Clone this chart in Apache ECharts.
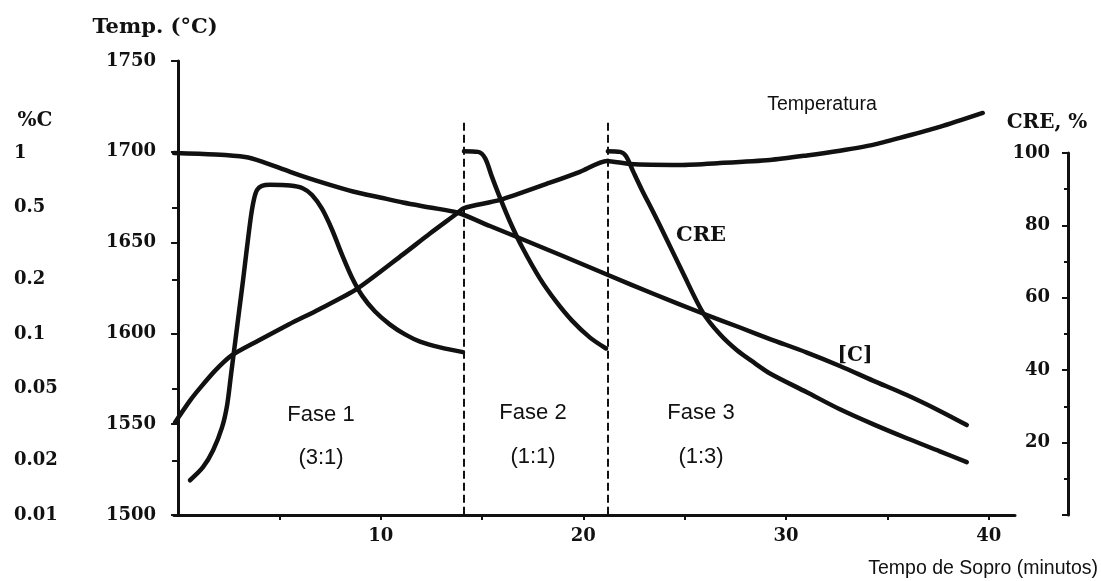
<!DOCTYPE html>
<html>
<head>
<meta charset="utf-8">
<script src="https://cdn.jsdelivr.net/npm/echarts@6/dist/echarts.min.js"></script>
<style>
  html, body { margin: 0; padding: 0; background: #fff; }
  #chart { width: 1101px; height: 581px; }
</style>
</head>
<body>
<div id="chart"></div>
<script>
// Blowing time (minutes) and bath temperature (°C)
const tempTime = [-0.15, 0.59, 1.09, 1.83, 2.66, 3.95, 5.48, 7.0, 8.83, 11.1, 12.43, 13.76, 14.11,
  15.89, 18.35, 19.83, 21.16, 22.3, 24.77, 26.74, 29.2, 31.03, 32.66, 34.29, 35.96, 37.59, 39.71];
const tempValues = [1551, 1563, 1570, 1579.5, 1588, 1596, 1605, 1613.5, 1624.5, 1643.5, 1655, 1666, 1669,
  1673.5, 1683, 1689, 1695, 1693.3, 1692.8, 1693.8, 1695.5, 1698, 1700.6, 1703.8, 1708.7, 1713.7, 1721.4];

// Carbon content of the bath, %C (log scale)
const carbonTime = [-0.2, 1.83, 3.31, 4.14, 5.28, 6.17, 7.5, 8.63, 9.97, 11.1, 12.43, 13.76,
  15.39, 16.72, 18.99, 21.16, 23.48, 25.9, 27.73, 29.21, 31.03, 32.66, 34.29, 35.96, 37.59, 38.92];
const carbonPct = [1.0, 0.981, 0.95, 0.897, 0.806, 0.742, 0.666, 0.613, 0.568, 0.533, 0.5, 0.469,
  0.395, 0.3434, 0.2698, 0.2132, 0.1663, 0.1298, 0.1086, 0.0938, 0.079, 0.0666, 0.0553, 0.046, 0.0376, 0.0314];

// Post-combustion ratio CRE (%) for each blowing phase
const creTime1 = [0.59, 1.23, 1.73, 2.17, 2.42, 2.61, 2.81, 3.01, 3.21, 3.4, 3.6, 3.75, 3.9, 4.14, 4.54,
  5.53, 6.17, 6.61, 7.1, 7.6, 8.09, 8.58, 9.08, 9.72, 10.46, 11.2, 11.94, 12.93, 14.06];
const cre1 = [9.6, 13.2, 17.9, 24.2, 30.3, 38.6, 47.4, 56.2, 65.0, 73.8, 82.6, 87.3, 89.8, 90.9, 91.2,
  91.0, 90.2, 88.4, 84.6, 78.8, 71.9, 65.6, 60.6, 56.2, 52.6, 49.9, 47.9, 46.3, 45.0];
const creTime2 = [14.11, 14.8, 15.15, 15.49, 15.89, 16.38, 16.97, 17.86, 18.65, 19.44, 20.33, 21.12];
const cre2 = [100.5, 100.3, 98.6, 93.4, 87.6, 81.0, 74.1, 65.3, 59.0, 53.7, 49.0, 46.0];
const creTime3 = [21.21, 21.81, 22.1, 22.45, 22.89, 23.39, 24.03, 24.91, 25.9, 26.74, 27.58, 28.47,
  29.21, 31.03, 32.66, 34.29, 35.96, 37.59, 38.92];
const cre3 = [100.5, 100.3, 99.2, 95.0, 89.8, 84.3, 77.1, 66.9, 55.9, 49.9, 45.5, 41.9,
  39.1, 33.9, 29.2, 25.1, 21.2, 17.6, 14.6];

// Phase boundaries (minutes) and phase captions
const phaseBounds = [14.11, 21.21];
const phaseNames = ['Fase 1', 'Fase 2', 'Fase 3'];
const phaseRatios = ['(3:1)', '(1:1)', '(1:3)'];

// Axis ticks
const minuteLabels = [10, 20, 30, 40];
const minuteTicks = [5, 10, 15, 20, 25, 30, 35, 40];
const carbonTicks = [0.01, 0.02, 0.05, 0.1, 0.2, 0.5, 1];

const ink = '#111';
const serif = '"DejaVu Serif", serif';
const sans = '"Liberation Sans", Arial, sans-serif';
const curve = { color: ink, width: 4.5, cap: 'round', join: 'round' };

const pairs = (xs, ys) => xs.map((x, i) => [x, ys[i]]);
const axisFont = { fontFamily: serif, fontWeight: 'bold', fontSize: 18, color: ink };

function lineSeries(name, data, xi, yi, extra) {
  return Object.assign({
    name, type: 'line', data, xAxisIndex: xi, yAxisIndex: yi,
    symbol: 'none', smooth: 0.3, clip: false, silent: true,
    lineStyle: curve
  }, extra || {});
}

function label(x, y, text, font, align) {
  return { type: 'text', x, y, silent: true,
    style: { text, font, fill: ink, align: align || 'center', verticalAlign: 'middle' } };
}

const chart = echarts.init(document.getElementById('chart'), null, { renderer: 'canvas' });

// Captions: phase names above their O2 ratio
const phaseLabelPos = [[321, 415, 458], [533, 413, 457], [701, 413, 457]];
const texts = [];
phaseNames.forEach((n, i) => {
  const p = phaseLabelPos[i];
  texts.push(label(p[0], p[1], n, '22px ' + sans));
  texts.push(label(p[0], p[2], phaseRatios[i], '22px ' + sans));
});
texts.push(
  label(155, 28, 'Temp. (°C)', 'bold 21px ' + serif),
  label(35, 121, '%C', 'bold 20px ' + serif),
  label(1047, 123, 'CRE, %', 'bold 20px ' + serif),
  label(822, 105, 'Temperatura', '19.5px ' + sans),
  label(701, 236, 'CRE', 'bold 21px ' + serif),
  label(855, 356, '[C]', 'bold 20px ' + serif),
  label(1098, 569, 'Tempo de Sopro (minutos)', '19.5px ' + sans, 'right')
);

const option = {
  animation: false,
  backgroundColor: '#fff',
  grid: [
    { left: 174, right: 86, top: 61, bottom: 66 },
    { left: 174, right: 86, top: 153, bottom: 66 }
  ],
  xAxis: [
    {
      gridIndex: 0, type: 'value', min: -0.2, max: 41.3,
      axisLine: { show: true, lineStyle: { color: ink, width: 3 } },
      axisTick: { show: true, customValues: minuteTicks, length: 5, lineStyle: { color: ink, width: 2 } },
      axisLabel: Object.assign({ customValues: minuteLabels, margin: 12 }, axisFont),
      splitLine: { show: false }
    },
    { gridIndex: 1, type: 'value', min: -0.2, max: 41.3, show: false }
  ],
  yAxis: [
    {
      gridIndex: 0, type: 'value', min: 1500, max: 1750, interval: 50, position: 'left',
      axisLine: { show: true, lineStyle: { color: ink, width: 3 } },
      axisTick: { show: true, length: 7, lineStyle: { color: ink, width: 2 } },
      axisLabel: Object.assign({ margin: 18, formatter: v => String(v) }, axisFont),
      splitLine: { show: false }
    },
    {
      gridIndex: 1, type: 'value', min: -2, max: 0, position: 'left', offset: 96,
      axisLine: { show: true, lineStyle: { color: ink, width: 3 } },
      axisTick: { show: true, customValues: carbonTicks.map(Math.log10), length: 6, lineStyle: { color: ink, width: 2 } },
      axisLabel: Object.assign({
        customValues: carbonTicks.map(Math.log10), align: 'left', margin: 64,
        formatter: v => String(Number(Math.pow(10, v).toPrecision(2)))
      }, axisFont),
      splitLine: { show: false }
    },
    {
      gridIndex: 1, type: 'value', min: 0, max: 100, interval: 20, position: 'right', offset: 53,
      axisLine: { show: true, lineStyle: { color: ink, width: 3 } },
      axisTick: { show: true, inside: true, length: 6, lineStyle: { color: ink, width: 2 } },
      minorTick: { show: true, splitNumber: 2, length: 4, lineStyle: { color: ink, width: 2 } },
      axisLabel: Object.assign({ inside: true, margin: 18, formatter: v => (v === 0 ? '' : String(v)) }, axisFont),
      splitLine: { show: false }
    }
  ],
  series: [
    lineSeries('Temperatura', pairs(tempTime, tempValues), 0, 0, {
      smooth: 0.25,
      markLine: {
        silent: true, symbol: 'none', label: { show: false },
        lineStyle: { color: ink, width: 2, type: [8, 4] },
        data: phaseBounds.map(t => [{ coord: [t, 1716] }, { coord: [t, 1500] }])
      }
    }),
    lineSeries('[C]', carbonTime.map((t, i) => [t, Math.log10(carbonPct[i])]), 1, 1),
    lineSeries('CRE fase 1', pairs(creTime1, cre1), 1, 2),
    lineSeries('CRE fase 2', pairs(creTime2, cre2), 1, 2),
    lineSeries('CRE fase 3', pairs(creTime3, cre3), 1, 2)
  ],
  graphic: texts
};

chart.setOption(option);
</script>
</body>
</html>
